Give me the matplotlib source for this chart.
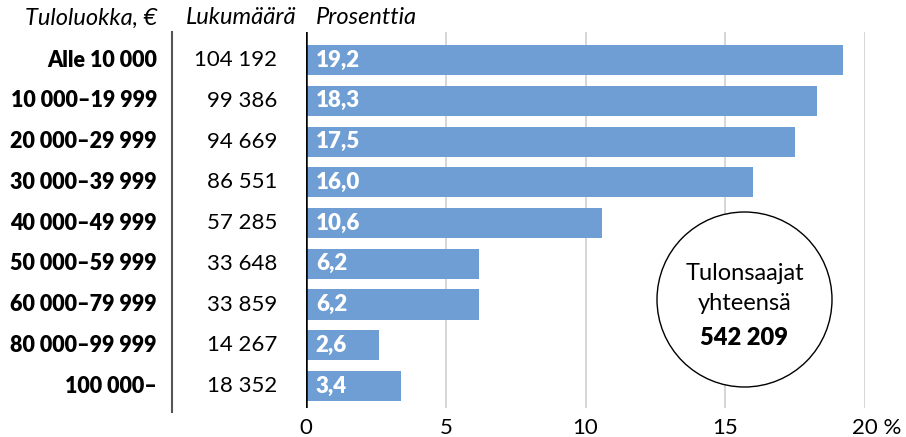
import matplotlib.pyplot as plt
import matplotlib.patches as patches
from matplotlib import transforms

plt.rcParams["font.family"] = ["Lato", "DejaVu Sans"]
plt.rcParams["font.size"] = 15

# data
classes = ["Alle 10 000", "10 000–19 999", "20 000–29 999", "30 000–39 999",
           "40 000–49 999", "50 000–59 999", "60 000–79 999", "80 000–99 999",
           "100 000–"]
counts = ["104 192", "99 386", "94 669", "86 551", "57 285", "33 648", "33 859",
          "14 267", "18 352"]
percents = [19.2, 18.3, 17.5, 16.0, 10.6, 6.2, 6.2, 2.6, 3.4]
total = "542 209"
xticks = [0, 5, 10, 15, 20]
xtick_labels = ["0", "5", "10", "15", "20 %"]

bar_color = "#6e9ed4"
W, H = 906, 437

fig = plt.figure(figsize=(W / 100, H / 100), dpi=100)
ax = fig.add_axes([306 / W, 1 - 408 / H, 559 / W, 376 / H])

y = list(range(len(classes)))
ax.barh(y, percents, height=0.74, color=bar_color, zorder=2)
ax.set_xlim(0, 20)
ax.set_ylim(8.54, -0.69)

for i, p in enumerate(percents):
    ax.text(0.35, i, ("%.1f" % p).replace(".", ","), color="white",
            fontweight="heavy", va="center", ha="left", fontsize=16, zorder=3)

ax.set_xticks(xticks)
ax.set_xticklabels(xtick_labels)
ax.set_yticks([])
ax.tick_params(axis="x", length=0, pad=7, labelsize=16)
# "20" sits on the tick, the % sign hangs to the right
last = ax.get_xticklabels()[-1]
last.set_horizontalalignment("left")
last.set_transform(last.get_transform() +
                   transforms.ScaledTranslation(-0.13, 0, fig.dpi_scale_trans))
for s in ax.spines.values():
    s.set_visible(False)
for t in xticks[1:]:
    ax.axvline(t, color="#d0d0d0", lw=1.2, zorder=1)
ax.axvline(0, color="black", lw=1.8, zorder=3)

# label columns left of the axes
trans = transforms.blended_transform_factory(ax.transAxes, ax.transData)
def px(x):
    return (x - 306) / 559

for i in y:
    ax.text(px(157), i, classes[i], transform=trans, ha="right", va="center",
            fontweight="heavy", fontsize=15.5)
    ax.text(px(277), i, counts[i], transform=trans, ha="right", va="center",
            fontsize=16)

ax.plot([px(172), px(172)], [1, -0.01], transform=ax.transAxes,
        color="#555555", lw=1.5, clip_on=False)

# headers
fig.text(157 / W, 1 - 18 / H, "Tuloluokka, €", style="italic", ha="right",
         va="center", fontsize=17)
fig.text(241 / W, 1 - 18 / H, "Lukumäärä", style="italic", ha="center",
         va="center", fontsize=17)
fig.text(316 / W, 1 - 18 / H, "Prosenttia", style="italic", ha="left",
         va="center", fontsize=17)

# total circle
cx, cy, r = 744.5, 299.5, 87.5
circ = patches.Ellipse((cx / W, 1 - cy / H), 2 * r / W, 2 * r / H,
                       transform=fig.transFigure, facecolor="white",
                       edgecolor="black", lw=1.0, zorder=5)
fig.patches.append(circ)
fig.text(cx / W, 1 - 274 / H, "Tulonsaajat", ha="center", va="center",
         fontsize=17, zorder=6)
fig.text(cx / W, 1 - 304 / H, "yhteensä", ha="center", va="center",
         fontsize=17, zorder=6)
fig.text(cx / W, 1 - 338 / H, total, ha="center", va="center",
         fontsize=17, fontweight="heavy", zorder=6)

fig.savefig("out.png", dpi=100)
